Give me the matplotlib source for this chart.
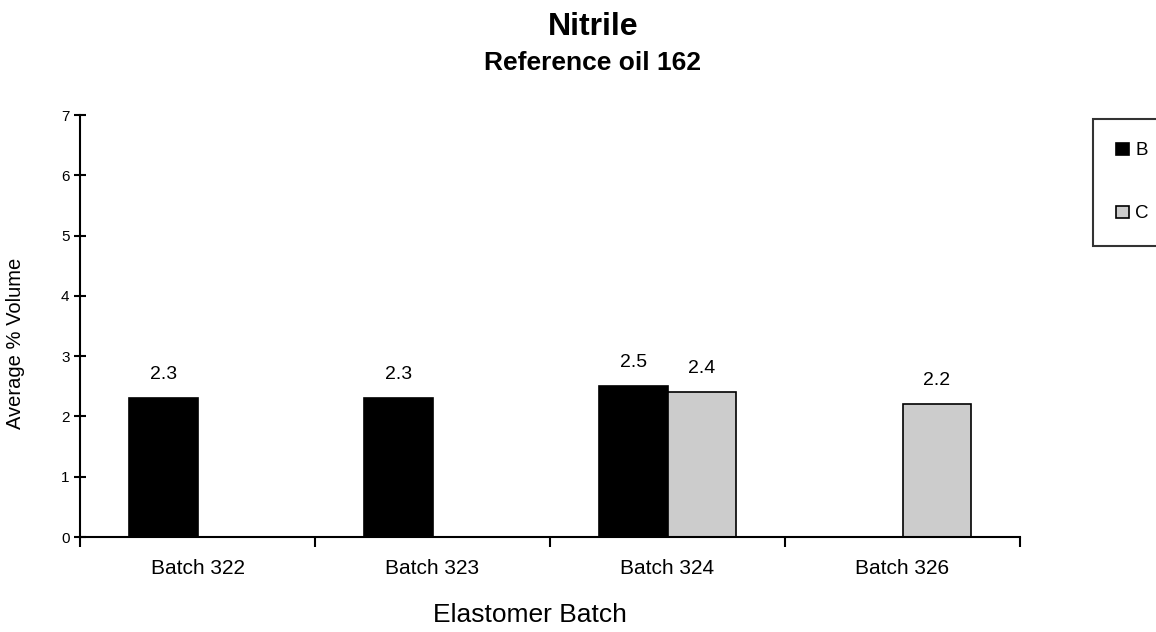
import numpy as np
import matplotlib
matplotlib.use('Agg')
import matplotlib.pyplot as plt
from matplotlib.ticker import FixedLocator

plt.rcParams['font.family'] = ['Liberation Sans', 'DejaVu Sans']

batches = ['Batch 322', 'Batch 323', 'Batch 324', 'Batch 326']
series_b = [2.3, 2.3, 2.5, np.nan]
series_c = [np.nan, np.nan, 2.4, 2.2]

fig = plt.figure(figsize=(11.56, 6.32), dpi=100)
ax = fig.add_axes([0.0692, 0.1503, 0.8132, 0.6677])

x = np.arange(len(batches))
width = 0.292

bars_b = ax.bar(x - width / 2, series_b, width, color='black', edgecolor='black',
                linewidth=1.2, label='B')
bars_c = ax.bar(x + width / 2, series_c, width, color='#cccccc', edgecolor='black',
                linewidth=1.2, label='C')

for bars, vals in ((bars_b, series_b), (bars_c, series_c)):
    for rect, v in zip(bars, vals):
        if np.isnan(v):
            continue
        ax.annotate(f'{v:.1f}', xy=(rect.get_x() + rect.get_width() / 2, v),
                    xytext=(0, 11), textcoords='offset points',
                    ha='center', va='bottom', fontsize=14)

ax.set_xlim(-0.5, len(batches) - 0.5)
ax.set_ylim(0, 7)
ax.set_yticks(range(0, 8))

ax.set_xticks(x)
ax.set_xticklabels(batches, fontsize=15)
ax.xaxis.set_minor_locator(FixedLocator(np.arange(-0.5, len(batches), 1.0)))
ax.tick_params(axis='x', which='major', length=0, pad=16)
ax.tick_params(axis='x', which='minor', direction='out', length=7, width=1.5)
ax.tick_params(axis='y', direction='inout', length=9, width=1.5, labelsize=11, pad=3)

for side in ('top', 'right'):
    ax.spines[side].set_visible(False)
for side in ('left', 'bottom'):
    ax.spines[side].set_linewidth(1.5)

fig.text(530 / 1156, 1 - 615 / 632, 'Elastomer Batch', ha='center', va='center', fontsize=19)
fig.text(16 / 1156, 1 - 343 / 632, 'Average % Volume', ha='center', va='center',
         rotation=90, fontsize=14.5)

fig.text(593 / 1156, 1 - 27 / 632, 'Nitrile', ha='center', va='center',
         fontsize=23, fontweight='bold')
fig.text(593 / 1156, 1 - 63 / 632, 'Reference oil 162', ha='center', va='center',
         fontsize=19, fontweight='bold')

leg = ax.legend(loc='upper left', bbox_to_anchor=(1093 / 1156, 1 - 119 / 632),
                bbox_transform=fig.transFigure, frameon=True, fancybox=False,
                handlelength=0.65, handleheight=0.65, handletextpad=0.35,
                labelspacing=2.45, borderpad=1.25, fontsize=13.5, borderaxespad=0)
leg.get_frame().set_edgecolor('black')
leg.get_frame().set_linewidth(1.5)

fig.savefig('out.png', dpi=100)
